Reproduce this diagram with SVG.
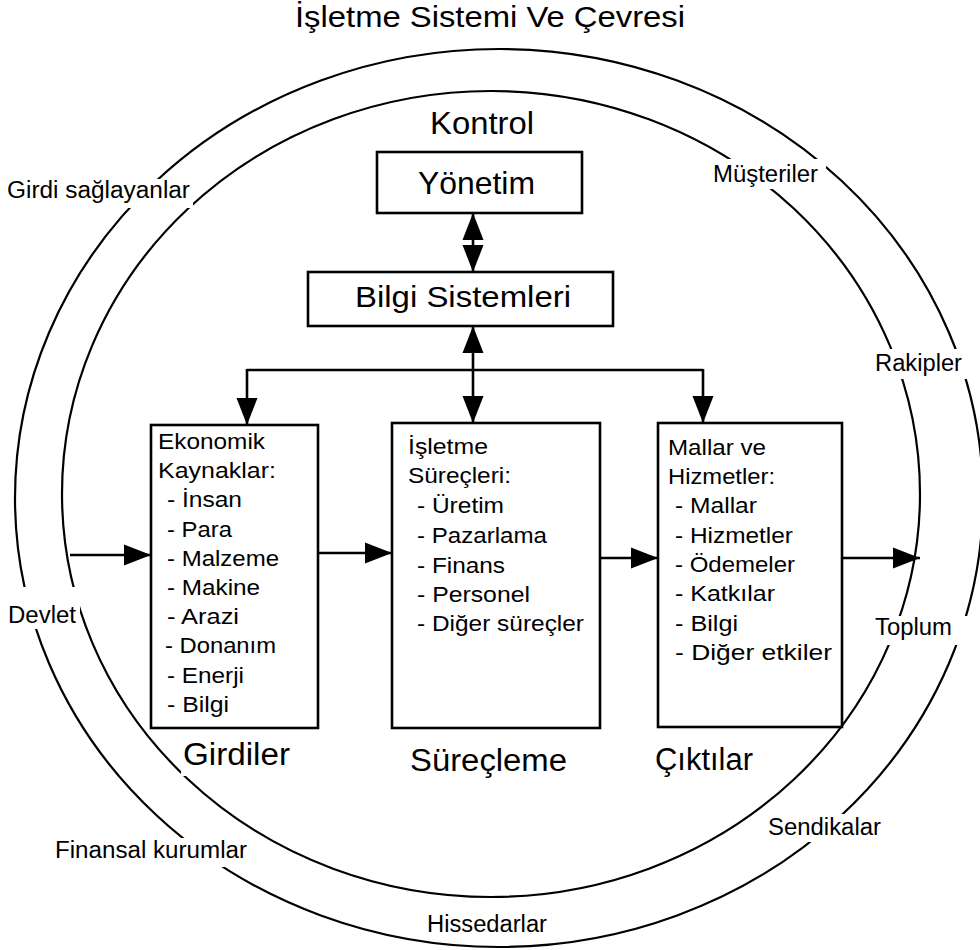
<svg xmlns="http://www.w3.org/2000/svg" width="980" height="950" viewBox="0 0 980 950">
  <style>
    text { font-family: "Liberation Sans", Arial, Helvetica, sans-serif; fill: #000; }
    .title { font-size: 29px; }
    .big { font-size: 31px; }
    .item { font-size: 22px; }
    .env { font-size: 23px; }
    .box { fill: #fff; stroke: #000; stroke-width: 2.6; }
    .ring { fill: none; stroke: #000; stroke-width: 2.2; }
    .wire { fill: none; stroke: #000; stroke-width: 2.6; }
  </style>
  <defs>
    <marker id="head" markerUnits="userSpaceOnUse" markerWidth="28" markerHeight="22"
            refX="27" refY="10.5" orient="auto-start-reverse" overflow="visible">
      <path d="M0,0 L27,10.5 L0,21 Z" fill="#000"/>
    </marker>
    <!-- openings in the two rings where the environment labels sit -->
    <mask id="ringGaps" maskUnits="userSpaceOnUse" x="0" y="0" width="980" height="950">
      <rect x="0" y="0" width="980" height="950" fill="#fff"/>
      <rect x="0" y="179" width="193" height="29" fill="#000"/>
      <rect x="708" y="159" width="118" height="30" fill="#000"/>
      <rect x="870" y="349" width="105" height="30" fill="#000"/>
      <rect x="0" y="587" width="80" height="42" fill="#000"/>
      <rect x="870" y="616" width="105" height="29" fill="#000"/>
      <rect x="48" y="838" width="205" height="29" fill="#000"/>
      <rect x="762" y="814" width="124" height="28" fill="#000"/>
      <rect x="181" y="742" width="112" height="34" fill="#000"/>
    </mask>
  </defs>

  <rect x="0" y="0" width="980" height="950" fill="#fff"/>

  <text class="title" x="295" y="27" textLength="390" lengthAdjust="spacingAndGlyphs">İşletme Sistemi Ve Çevresi</text>

  <!-- environment (outer) and system (inner) boundaries -->
  <g id="rings" mask="url(#ringGaps)">
    <ellipse class="ring" cx="499" cy="498" rx="484" ry="449"/>
    <ellipse class="ring" cx="491" cy="494" rx="429" ry="403"/>
  </g>

  <!-- environment actors -->
  <g id="environment">
    <text class="env" x="7" y="198" textLength="183" lengthAdjust="spacingAndGlyphs">Girdi sağlayanlar</text>
    <text class="env" x="713" y="182" textLength="105" lengthAdjust="spacingAndGlyphs">Müşteriler</text>
    <text class="env" x="875" y="371" textLength="87" lengthAdjust="spacingAndGlyphs">Rakipler</text>
    <text class="env" x="8" y="623" textLength="68" lengthAdjust="spacingAndGlyphs">Devlet</text>
    <text class="env" x="875" y="635" textLength="77" lengthAdjust="spacingAndGlyphs">Toplum</text>
    <text class="env" x="55" y="858" textLength="192" lengthAdjust="spacingAndGlyphs">Finansal kurumlar</text>
    <text class="env" x="768" y="835" textLength="113" lengthAdjust="spacingAndGlyphs">Sendikalar</text>
    <text class="env" x="427" y="932" textLength="120" lengthAdjust="spacingAndGlyphs">Hissedarlar</text>
  </g>

  <!-- connectors -->
  <g id="connectors">
    <line class="wire" x1="473" y1="213" x2="473" y2="272" marker-start="url(#head)" marker-end="url(#head)"/>
    <line class="wire" x1="473" y1="326" x2="473" y2="423" marker-start="url(#head)" marker-end="url(#head)"/>
    <line class="wire" x1="247" y1="370" x2="703" y2="370"/>
    <line class="wire" x1="247" y1="369" x2="247" y2="425" marker-end="url(#head)"/>
    <line class="wire" x1="703" y1="369" x2="703" y2="423" marker-end="url(#head)"/>
    <line class="wire" x1="70" y1="555" x2="151" y2="555" marker-end="url(#head)"/>
    <line class="wire" x1="318" y1="553" x2="392" y2="553" marker-end="url(#head)"/>
    <line class="wire" x1="600" y1="558" x2="658" y2="558" marker-end="url(#head)"/>
    <line class="wire" x1="842" y1="558" x2="920" y2="558" marker-end="url(#head)"/>
  </g>

  <!-- control -->
  <g id="node-yonetim">
    <text class="big" x="430" y="134" textLength="104" lengthAdjust="spacingAndGlyphs">Kontrol</text>
    <rect class="box" x="377" y="152" width="205" height="61"/>
    <text class="big" x="418" y="194" style="font-size:32px" textLength="117" lengthAdjust="spacingAndGlyphs">Yönetim</text>
  </g>

  <g id="node-bilgi">
    <rect class="box" x="308" y="272" width="305" height="54"/>
    <text class="big" x="355" y="307" style="font-size:30px" textLength="216" lengthAdjust="spacingAndGlyphs">Bilgi Sistemleri</text>
  </g>

  <!-- inputs -->
  <g id="node-girdiler">
    <rect class="box" x="151" y="425" width="167" height="303"/>
    <text class="item" x="158" y="449" textLength="107" lengthAdjust="spacingAndGlyphs">Ekonomik</text>
    <text class="item" x="158" y="478" textLength="118" lengthAdjust="spacingAndGlyphs">Kaynaklar:</text>
    <text class="item" x="167" y="507" textLength="75" lengthAdjust="spacingAndGlyphs">- İnsan</text>
    <text class="item" x="167" y="537" textLength="65" lengthAdjust="spacingAndGlyphs">- Para</text>
    <text class="item" x="167" y="566" textLength="112" lengthAdjust="spacingAndGlyphs">- Malzeme</text>
    <text class="item" x="167" y="595" textLength="93" lengthAdjust="spacingAndGlyphs">- Makine</text>
    <text class="item" x="167" y="624" textLength="72" lengthAdjust="spacingAndGlyphs">- Arazi</text>
    <text class="item" x="165" y="653" textLength="111" lengthAdjust="spacingAndGlyphs">- Donanım</text>
    <text class="item" x="167" y="683" textLength="77" lengthAdjust="spacingAndGlyphs">- Enerji</text>
    <text class="item" x="167" y="712" textLength="62" lengthAdjust="spacingAndGlyphs">- Bilgi</text>
    <text class="big" x="183" y="765" textLength="107" lengthAdjust="spacingAndGlyphs">Girdiler</text>
  </g>

  <!-- processing -->
  <g id="node-surecleme">
    <rect class="box" x="392" y="423" width="208" height="305"/>
    <text class="item" x="408" y="454" textLength="80" lengthAdjust="spacingAndGlyphs">İşletme</text>
    <text class="item" x="408" y="483" textLength="103" lengthAdjust="spacingAndGlyphs">Süreçleri:</text>
    <text class="item" x="417" y="513" textLength="87" lengthAdjust="spacingAndGlyphs">- Üretim</text>
    <text class="item" x="417" y="543" textLength="130" lengthAdjust="spacingAndGlyphs">- Pazarlama</text>
    <text class="item" x="417" y="573" textLength="88" lengthAdjust="spacingAndGlyphs">- Finans</text>
    <text class="item" x="417" y="602" textLength="113" lengthAdjust="spacingAndGlyphs">- Personel</text>
    <text class="item" x="417" y="631" textLength="167" lengthAdjust="spacingAndGlyphs">- Diğer süreçler</text>
    <text class="big" x="410" y="771" textLength="157" lengthAdjust="spacingAndGlyphs">Süreçleme</text>
  </g>

  <!-- outputs -->
  <g id="node-ciktilar">
    <rect class="box" x="658" y="423" width="184" height="304"/>
    <text class="item" x="668" y="455" textLength="98" lengthAdjust="spacingAndGlyphs">Mallar ve</text>
    <text class="item" x="668" y="484" textLength="107" lengthAdjust="spacingAndGlyphs">Hizmetler:</text>
    <text class="item" x="675" y="513" textLength="82" lengthAdjust="spacingAndGlyphs">- Mallar</text>
    <text class="item" x="675" y="543" textLength="118" lengthAdjust="spacingAndGlyphs">- Hizmetler</text>
    <text class="item" x="675" y="572" textLength="120" lengthAdjust="spacingAndGlyphs">- Ödemeler</text>
    <text class="item" x="675" y="601" textLength="100" lengthAdjust="spacingAndGlyphs">- Katkılar</text>
    <text class="item" x="675" y="631" textLength="63" lengthAdjust="spacingAndGlyphs">- Bilgi</text>
    <text class="item" x="675" y="660" textLength="157" lengthAdjust="spacingAndGlyphs">- Diğer etkiler</text>
    <text class="big" x="655" y="770" textLength="98" lengthAdjust="spacingAndGlyphs">Çıktılar</text>
  </g>
</svg>
